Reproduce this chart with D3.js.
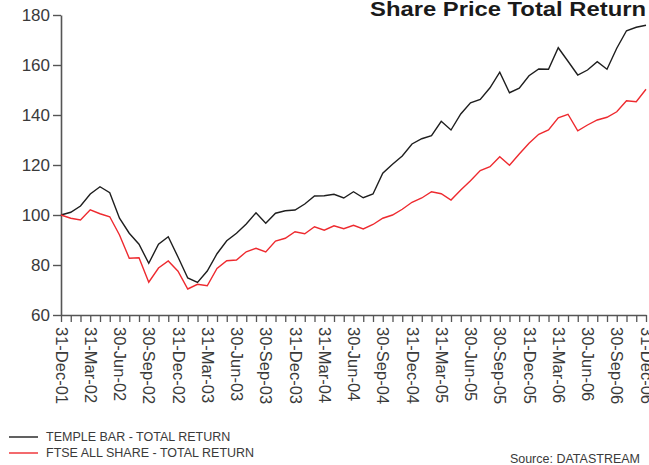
<!DOCTYPE html>
<html>
<head>
<meta charset="utf-8">
<script src="https://cdn.jsdelivr.net/npm/d3@7"></script>
<style>
  html, body { margin: 0; padding: 0; background: #fff; }
  svg { display: block; font-family: "Liberation Sans", Arial, sans-serif; }
</style>
</head>
<body>
<svg id="chart"></svg>
<script>
// month-end values, 31-Dec-01 .. 31-Dec-06 (61 months)
const templeBar = [
  100, 101.1, 103.6, 108.4, 111.3, 108.9, 98.7, 92.7, 88.3, 80.7,
  88.3, 91.3, 83.2, 74.8, 73, 77.6, 84.5, 89.7, 92.7, 96.4,
  100.9, 96.7, 100.7, 101.7, 102, 104.4, 107.6, 107.7, 108.3, 106.8,
  109.3, 106.9, 108.4, 116.7, 120.3, 123.6, 128.4, 130.5, 131.7, 137.5,
  134, 140.4, 144.9, 146.2, 150.9, 157.1, 148.9, 150.7, 155.7, 158.4,
  158.3, 166.9, 161.5, 156, 158, 161.3, 158.3, 166.7, 173.7, 175.1,
  175.9
];
const ftseAllShare = [
  100, 98.7, 98, 102.1, 100.5, 99.3, 92, 82.7, 82.9, 73.1,
  78.8, 81.6, 77.5, 70.4, 72.3, 71.7, 78.6, 81.7, 82, 85.3,
  86.7, 85.2, 89.6, 90.7, 93.3, 92.5, 95.3, 93.9, 95.7, 94.5,
  95.9, 94.4, 96.2, 98.7, 100, 102.3, 105.1, 106.8, 109.3, 108.5,
  106, 110, 113.7, 117.8, 119.3, 123.3, 119.9, 124.4, 128.7, 132.3,
  134, 138.9, 140.3, 133.7, 136, 138, 139.1, 141.3, 145.7, 145.3,
  150.3
];
// one label every third month
const tickLabels = [
  "31-Dec-01", "31-Mar-02", "30-Jun-02", "30-Sep-02", "31-Dec-02",
  "31-Mar-03", "30-Jun-03", "30-Sep-03", "31-Dec-03", "31-Mar-04",
  "30-Jun-04", "30-Sep-04", "31-Dec-04", "31-Mar-05", "30-Jun-05",
  "30-Sep-05", "31-Dec-05", "31-Mar-06", "30-Jun-06", "30-Sep-06",
  "31-Dec-06"
];
const yTicks = [60, 80, 100, 120, 140, 160, 180];
const seriesNames = ["TEMPLE BAR - TOTAL RETURN", "FTSE ALL SHARE - TOTAL RETURN"];
const seriesColors = ["#1e1e1e", "#ee2a2f"];

const width = 649, height = 465;
const plotLeft = 61, plotRight = 646, plotTop = 15, plotBottom = 315;

const svg = d3.select("#chart")
  .attr("width", width)
  .attr("height", height);

const x = d3.scaleLinear()
  .domain([0, templeBar.length - 1])
  .range([plotLeft, plotRight]);

const y = d3.scaleLinear()
  .domain([60, 180])
  .range([plotBottom, plotTop]);

// y axis
const yAxis = d3.axisLeft(y)
  .tickValues(yTicks)
  .tickSize(8)
  .tickPadding(3)
  .tickSizeOuter(0);

const gy = svg.append("g")
  .attr("transform", `translate(${plotLeft}, 0)`)
  .call(yAxis);
gy.select(".domain").attr("stroke", "#555").attr("stroke-width", 1.6);
gy.selectAll(".tick line").attr("stroke", "#555").attr("stroke-width", 1.4);
gy.selectAll(".tick text")
  .attr("fill", "#3a3a3a")
  .style("font-size", "17px");

// x axis - monthly ticks, quarterly labels
const xAxis = d3.axisBottom(x)
  .tickValues(d3.range(templeBar.length))
  .tickSize(7)
  .tickSizeOuter(0)
  .tickFormat(i => i % 3 === 0 ? tickLabels[i / 3] : "");

const gx = svg.append("g")
  .attr("transform", `translate(0, ${plotBottom})`)
  .call(xAxis);
gx.select(".domain").attr("stroke", "#555").attr("stroke-width", 1.6);
gx.selectAll(".tick line").attr("stroke", "#555").attr("stroke-width", 1.3);
gx.selectAll(".tick text")
  .attr("fill", "#3a3a3a")
  .style("font-size", "16.5px")
  .attr("transform", "rotate(90)")
  .attr("x", 12)
  .attr("y", 0)
  .attr("dy", "0.35em")
  .style("text-anchor", "start");

// lines
const line = d3.line()
  .x((d, i) => x(i))
  .y(d => y(d));

[templeBar, ftseAllShare].forEach((s, k) => {
  svg.append("path")
    .datum(s)
    .attr("fill", "none")
    .attr("stroke", seriesColors[k])
    .attr("stroke-width", 1.4)
    .attr("stroke-linejoin", "miter")
    .attr("d", line);
});

// title (wide bold face in the original, stretched to its width)
svg.append("text")
  .attr("x", 646)
  .attr("y", 16)
  .style("text-anchor", "end")
  .style("font-size", "20px")
  .style("font-weight", "bold")
  .attr("textLength", 276)
  .attr("lengthAdjust", "spacingAndGlyphs")
  .attr("fill", "#1a1a1a")
  .text("Share Price Total Return");

// legend
const legend = svg.append("g");
seriesNames.forEach((name, k) => {
  const ly = 437 + k * 16;
  legend.append("line")
    .attr("x1", 9).attr("x2", 38)
    .attr("y1", ly).attr("y2", ly)
    .attr("stroke", seriesColors[k])
    .attr("stroke-width", 1.4);
  legend.append("text")
    .attr("x", 46)
    .attr("y", ly)
    .attr("dy", "0.35em")
    .attr("fill", "#3a3a3a")
    .style("font-size", "12.5px")
    .text(name);
});

// source note
svg.append("text")
  .attr("x", 640)
  .attr("y", 463)
  .style("text-anchor", "end")
  .attr("fill", "#3a3a3a")
  .style("font-size", "12.5px")
  .text("Source: DATASTREAM");
</script>
</body>
</html>
